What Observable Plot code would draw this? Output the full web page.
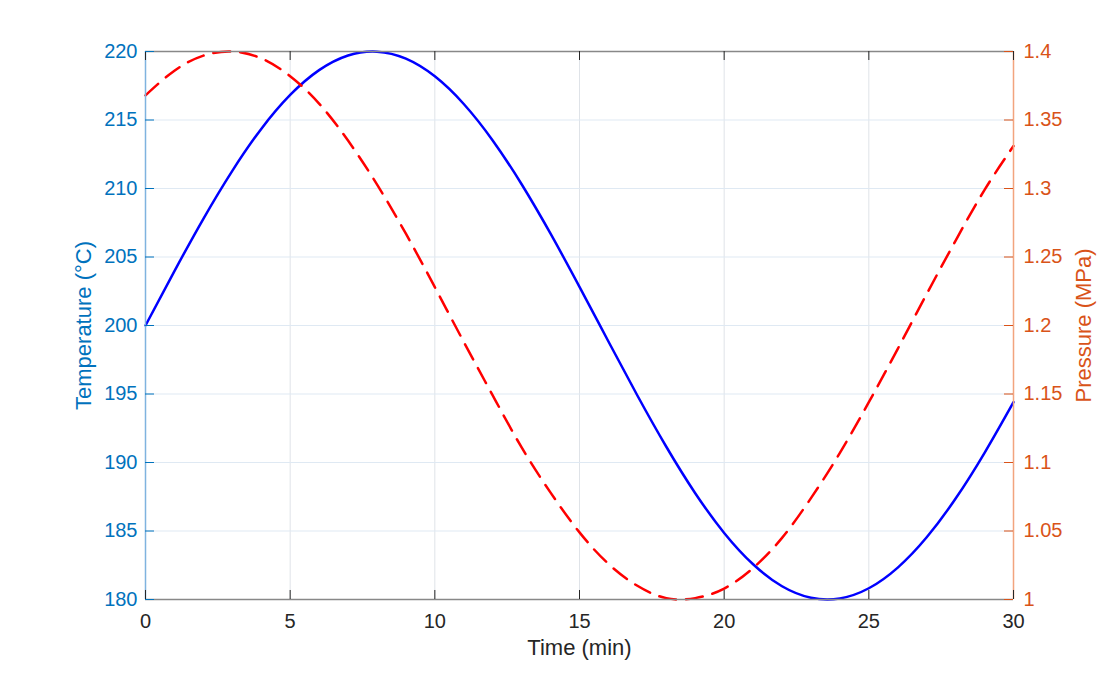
<!DOCTYPE html>
<html>
<head>
<meta charset="utf-8">
<script src="https://cdn.jsdelivr.net/npm/d3@7"></script>
<script src="https://cdn.jsdelivr.net/npm/@observablehq/plot@0.6"></script>
<style>
  html, body { margin: 0; padding: 0; background: #fff; }
  #chart svg { display: block; font-family: "Liberation Sans", Arial, sans-serif; }
</style>
</head>
<body>
<div id="chart"></div>
<script>
const time = [0,1,2,3,4,5,6,7,8,9,10,11,12,13,14,15,16,17,18,19,20,21,22,23,24,25,26,27,28,29,30];
const temperature = [200,203.97,207.79,211.29,214.35,216.83,218.64,219.71,219.99,219.48,218.19,216.17,213.51,210.31,206.70,202.82,198.83,194.89,191.15,187.76,184.86,182.57,180.97,180.13,180.08,180.82,182.33,184.54,187.37,190.71,194.41];
const pressure = [1.368,1.386,1.397,1.400,1.395,1.382,1.362,1.335,1.303,1.267,1.228,1.188,1.149,1.111,1.078,1.049,1.026,1.010,1.001,1.001,1.008,1.023,1.045,1.074,1.107,1.144,1.183,1.223,1.262,1.299,1.331];
const xTicks = [0,5,10,15,20,25,30];
const tempTicks = [180,185,190,195,200,205,210,215,220];
const pressTicks = [1,1.05,1.1,1.15,1.2,1.25,1.3,1.35,1.4];

// map pressure [1,1.4] onto the temperature scale [180,220]
const pToT = p => 180 + (p - 1) * 100;
const tToP = t => (t - 180) / 100 + 1;

const tData = time.map((t, i) => ({t, v: temperature[i]}));
const pData = time.map((t, i) => ({t, v: pToT(pressure[i])}));
const pTickPos = pressTicks.map(pToT);

const W = 1119, H = 674;
const blue = "#0072BD", orange = "#D95319", dark = "#262626";
const tickX = 0.311;  // ~9px in minutes
const tickY = 0.657;  // ~9px in °C

const chart = Plot.plot({
  width: W, height: H,
  marginLeft: 145, marginRight: 106, marginTop: 51, marginBottom: 75,
  style: {fontFamily: "Liberation Sans, Arial, sans-serif", fontSize: "20px", background: "#fff"},
  x: {domain: [0, 30]},
  y: {domain: [180, 220]},
  marks: [
    Plot.ruleX(xTicks.slice(1, -1), {stroke: "#dfe3e8", strokeWidth: 1}),
    Plot.ruleY(tempTicks.slice(1, -1), {stroke: "#dfe9f3", strokeWidth: 1}),
    Plot.line(tData, {x: "t", y: "v", stroke: "#0000FF", strokeWidth: 2.5, curve: "natural"}),
    Plot.line(pData, {x: "t", y: "v", stroke: "#FF0000", strokeWidth: 2.5, strokeDasharray: "17,10", curve: "natural"}),
    // frame
    Plot.ruleY([220], {stroke: "#888", strokeWidth: 1.5}),
    Plot.ruleY([180], {stroke: "#888", strokeWidth: 1.5}),
    Plot.ruleX([0], {stroke: "#7fb3df", strokeWidth: 1.5}),
    Plot.ruleX([30], {stroke: "#f2a47e", strokeWidth: 1.5}),
    // inward ticks
    Plot.ruleX(xTicks, {y1: 180, y2: 180 + tickY, stroke: dark, strokeWidth: 1}),
    Plot.ruleX(xTicks, {y1: 220, y2: 220 - tickY, stroke: dark, strokeWidth: 1}),
    Plot.ruleY(tempTicks, {x1: 0, x2: tickX, stroke: blue, strokeWidth: 1}),
    Plot.ruleY(pTickPos, {x1: 30, x2: 30 - tickX, stroke: orange, strokeWidth: 1}),
    // tick labels
    Plot.axisX({ticks: xTicks, tickSize: 0, tickPadding: 14, fill: dark, fontSize: 20, label: null}),
    Plot.axisY({ticks: tempTicks, anchor: "left", tickSize: 0, tickPadding: 8, fill: blue, fontSize: 20, label: null}),
    Plot.axisY({ticks: pTickPos, anchor: "right", tickSize: 0, tickPadding: 10, fill: orange, fontSize: 20, label: null,
      tickFormat: d => String(+tToP(d).toFixed(2))}),
    // axis titles
    Plot.text(["Time (min)"], {frameAnchor: "bottom", lineAnchor: "middle", dy: 48, fill: dark, fontSize: 22}),
    Plot.text(["Temperature (°C)"], {frameAnchor: "left", textAnchor: "middle", lineAnchor: "middle", dx: -62, rotate: -90, fill: blue, fontSize: 22}),
    Plot.text(["Pressure (MPa)"], {frameAnchor: "right", textAnchor: "middle", lineAnchor: "middle", dx: 70, rotate: -90, fill: orange, fontSize: 22})
  ]
});
document.getElementById("chart").appendChild(chart);
</script>
</body>
</html>
